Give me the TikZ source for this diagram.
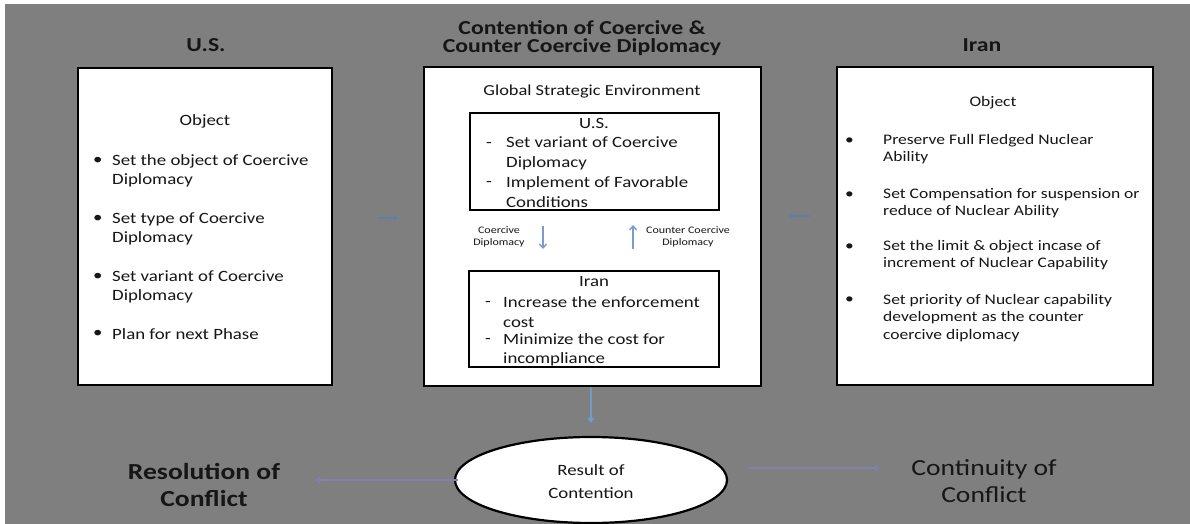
\documentclass[tikz,border=0pt]{standalone}
\usepackage{fontspec}
\setmainfont{Carlito}[FakeStretch=1.2]
\usetikzlibrary{arrows.meta,shapes.geometric}
\definecolor{bggray}{RGB}{127,127,127}
\definecolor{txtc}{RGB}{22,22,22}
\definecolor{arrblue}{RGB}{79,129,189}
\definecolor{lightarr}{RGB}{125,155,205}
\definecolor{lav}{RGB}{128,130,172}
\newcommand\myfbody{\fontsize{15.7}{19.3}\selectfont}
\newcommand\myfsmall{\fontsize{14.6}{17.7}\selectfont}
\newcommand\myftiny{\fontsize{10}{12}\selectfont}
\newcommand\myftitle{\bfseries\fontsize{19.8}{17.5}\selectfont}
\newcommand\myfbig{\fontsize{23}{27}\selectfont}
\begin{document}
\begin{tikzpicture}[x=1pt,y=-1pt,
  bigbox/.style={draw=black, line width=2.2pt, fill=white, inner sep=0, rectangle},
  innerbox/.style={draw=black, line width=2pt, fill=white, inner sep=0, rectangle},
  lbl/.style={inner sep=0, text=txtc, align=left, anchor=west},
  ctext/.style={inner sep=0, text=txtc, align=center},
  thinarr/.style={draw=lightarr, line width=1.4pt, -{Straight Barb[length=4pt,width=7pt]}},
  bigarr/.style={draw=lav, line width=2.5pt, -{Triangle[length=5pt,width=7pt,fill=arrblue]}},
  sidearr/.style={draw=arrblue!70!bggray, line width=1.6pt, -{Triangle[length=4pt,width=6pt]}}]
\fill[white] (0,0) rectangle (1190,524);
\fill[bggray] (5,4) rectangle (1190,524);
\useasboundingbox (0,0) rectangle (1190,524);

% titles
\node[ctext, font=\myftitle] (tus) at (206,45) {U.S.};
\node[ctext, font=\myftitle] (tctr) at (582,38) {Contention of Coercive \&\\Counter Coercive Diplomacy};
\node[ctext, font=\myftitle] (tir) at (982,45) {Iran};

% main boxes
\node[bigbox, minimum width=254, minimum height=317] (usbox) at (205,226.5) {};
\node[bigbox, minimum width=337, minimum height=319] (ctr) at (592.5,226.5) {};
\node[bigbox, minimum width=316, minimum height=318] (irbox) at (995,226) {};

% left box
\node[ctext, font=\myfbody] (uobj) at (205,121) {Object};
\node[lbl, font=\myfbody] (ub1) at (93,161) {•};
\node[lbl, font=\myfbody] (ut1) at (112,171) {Set the object of Coercive\\Diplomacy};
\node[lbl, font=\myfbody] (ub2) at (93,219) {•};
\node[lbl, font=\myfbody] (ut2) at (112,229) {Set type of Coercive\\Diplomacy};
\node[lbl, font=\myfbody] (ub3) at (93,277) {•};
\node[lbl, font=\myfbody] (ut3) at (112,287) {Set variant of Coercive\\Diplomacy};
\node[lbl, font=\myfbody] (ub4) at (93,334) {•};
\node[lbl, font=\myfbody] (ut4) at (112,334) {Plan for next Phase};

% center box
\node[ctext, font=\fontsize{15.3}{18}\selectfont] (gse) at (592,92) {Global Strategic Environment};
\node[innerbox, minimum width=249, minimum height=97] (cus) at (594.5,161.5) {};
\node[ctext, font=\myfbody] (cust) at (594,123) {U.S.};
\node[lbl, font=\myfbody] (cud1) at (486,145) {-};
\node[lbl, font=\myfbody] (cut1) at (506,153.5) {Set variant of Coercive\\Diplomacy};
\node[lbl, font=\myfbody] (cud2) at (486,184) {-};
\node[lbl, font=\myfbody] (cut2) at (506,192) {Implement of Favorable\\Conditions};

\node[ctext, font=\myftiny] (lcd) at (499,237) {Coercive\\Diplomacy};
\node[ctext, font=\myftiny] (lccd) at (688,237) {Counter Coercive\\Diplomacy};
\coordinate (d1) at (543,226);
\coordinate (d2) at (543,249);
\coordinate (u1) at (633,249);
\coordinate (u2) at (633,225);
\draw[thinarr] (d1) -- (d2);
\draw[thinarr] (u1) -- (u2);

\node[innerbox, minimum width=250, minimum height=96] (cir) at (594,319) {};
\node[ctext, font=\myfbody] (cirt) at (594,282) {Iran};
\node[lbl, font=\myfbody] (cid1) at (485,304) {-};
\node[lbl, font=\myfbody] (cit1) at (503,312) {Increase the enforcement\\cost};
\node[lbl, font=\myfbody] (cid2) at (485,341) {-};
\node[lbl, font=\myfbody] (cit2) at (503,350) {Minimize the cost for\\incompliance};

% right box
\node[ctext, font=\myfsmall] (iobj) at (993,103) {Object};
\node[lbl, font=\myfsmall] (ib1) at (845,141) {•};
\node[lbl, font=\myfsmall] (it1) at (883,149) {Preserve Full Fledged Nuclear\\Ability};
\node[lbl, font=\myfsmall] (ib2) at (845,195) {•};
\node[lbl, font=\myfsmall] (it2) at (883,203) {Set Compensation for suspension or\\reduce of Nuclear Ability};
\node[lbl, font=\myfsmall] (ib3) at (845,247) {•};
\node[lbl, font=\myfsmall] (it3) at (883,255) {Set the limit \& object incase of\\increment of Nuclear Capability};
\node[lbl, font=\myfsmall] (ib4) at (845,300) {•};
\node[lbl, font=\myfsmall] (it4) at (883,318) {Set priority of Nuclear capability\\development as the counter\\coercive diplomacy};

% side arrows
\coordinate (sl1) at (378,218);
\coordinate (sl2) at (398,218);
\coordinate (sr1) at (810,216);
\coordinate (sr2) at (788,216);
\draw[sidearr] (sl1) -- (sl2);
\draw[sidearr] (sr1) -- (sr2);

% bottom
\node[ellipse, draw=black, line width=2.2pt, fill=white, minimum width=272, minimum height=86, inner sep=0] (res) at (591,480) {};
\node[ctext, font=\fontsize{15.7}{23}\selectfont] (rest) at (591,482) {Result of\\Contention};
\coordinate (ctrbot) at (591,387);
\coordinate (restop) at (591,423);
\draw[draw=arrblue!80!white, line width=2.2pt, -{Triangle[length=5pt,width=7pt]}] (ctrbot) -- (restop);

\node[ctext, font=\myfbig\bfseries] (resol) at (204,485) {Resolution of\\Conflict};
\node[ctext, font=\myfbig] (cont) at (984,481) {Continuity of\\Conflict};
\coordinate (la1) at (458,480);
\coordinate (la2) at (315,480);
\coordinate (ra1) at (748,468);
\coordinate (ra2) at (880,468);
\draw[bigarr] (la1) -- (la2);
\draw[bigarr] (ra1) -- (ra2);
\end{tikzpicture}
\end{document}
